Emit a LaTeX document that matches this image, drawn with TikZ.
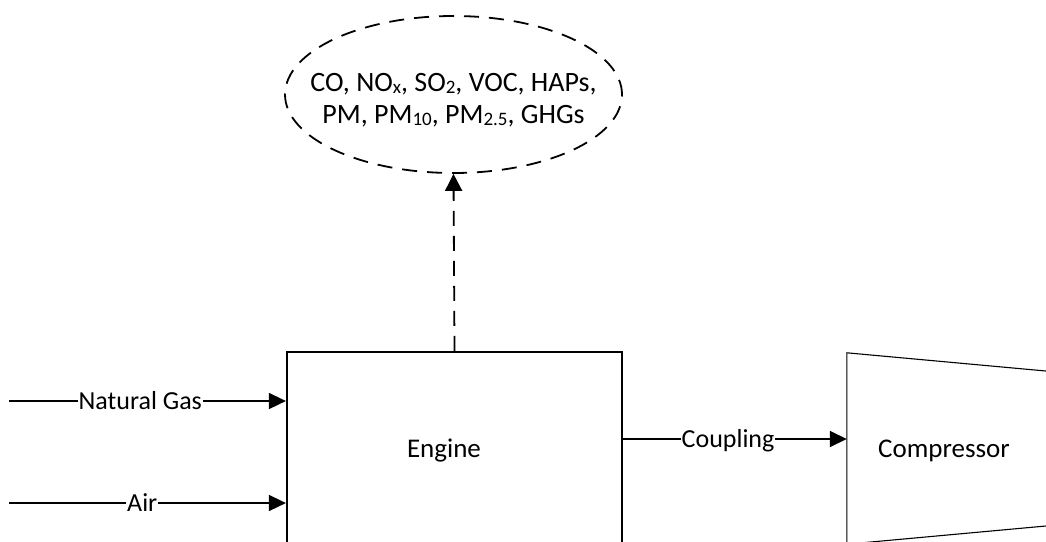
\documentclass[tikz,border=0pt]{standalone}
\usepackage{fontspec}
\setmainfont{Carlito}
\usetikzlibrary{arrows.meta,shapes.geometric}
\newcommand{\lowsub}[1]{\raisebox{-2pt}{\fontsize{19}{22}\selectfont #1}}
\begin{document}
\begin{tikzpicture}[x=1pt,y=-1pt,
  txt/.style={font=\fontsize{27}{32}\selectfont},
  lbltxt/.style={font=\fontsize{26}{31}\selectfont},
  emtxt/.style={font=\fontsize{28}{31.7}\selectfont},
  flow/.style={line width=1.6pt,-{Triangle[length=17pt,width=16pt]}},
  lbl/.style={lbltxt,fill=white,inner xsep=1pt,inner ysep=3pt,anchor=base west},
  emis/.style={draw,dashed,dash pattern=on 15pt off 10pt,line width=1.8pt,ellipse,minimum width=337pt,minimum height=157pt,inner sep=0pt},
  enginebox/.style={draw,line width=2.2pt,minimum width=335pt,minimum height=192pt,inner sep=0pt},
  compbox/.style={minimum width=203pt,minimum height=191pt,inner sep=0pt}]
\useasboundingbox (0,0) rectangle (1046,541);
\clip (0,0) rectangle (1046,541);
\fill[white] (0,0) rectangle (1046,541);
% engine
\node[enginebox] (engine) at (454.5,448) {};
\node[txt,anchor=base,inner sep=0pt] (enginetxt) at (444,457) {Engine};
% emissions ellipse
\node[emis] (emis) at (453.5,94.5) {};
\node[emtxt,align=center,anchor=base,inner sep=0pt] (emistxt) at (453.5,123.3) {CO, NO\lowsub{x}, SO\lowsub{2}, VOC, HAPs,\\PM, PM\lowsub{10}, PM\lowsub{2.5}, GHGs};
\draw[line width=1.8pt,dash pattern=on 15pt off 10pt,-{Triangle[length=17pt,width=17pt]}] (engine.north) -- (emis.south);
% compressor
\node[compbox] (comp) at (948.5,448.5) {};
\node[txt,anchor=base west,inner sep=0pt] (comptxt) at (878,457) {Compressor};
\draw[line width=1.1pt] (comp.south west) -- (comp.north west) -- ([yshift=-18.6pt]comp.north east) -- ([yshift=18.6pt]comp.south east) -- cycle;
% inputs
\coordinate (ngstart) at (9,401);
\coordinate (airstart) at (9,503);
\draw[flow] (ngstart) -- (ngstart -| engine.west);
\draw[flow] (airstart) -- (airstart -| engine.west);
\node[lbl] (nglbl) at (77.5,409) {Natural Gas\ };
\node[lbl] (airlbl) at (126,511) {Air\ };
% coupling
\coordinate (cpl) at (622,439);
\draw[flow] (cpl -| engine.east) -- (cpl -| comp.west);
\node[lbl] (cpllbl) at (680.5,447) {Coupling\ };
\end{tikzpicture}
\end{document}
